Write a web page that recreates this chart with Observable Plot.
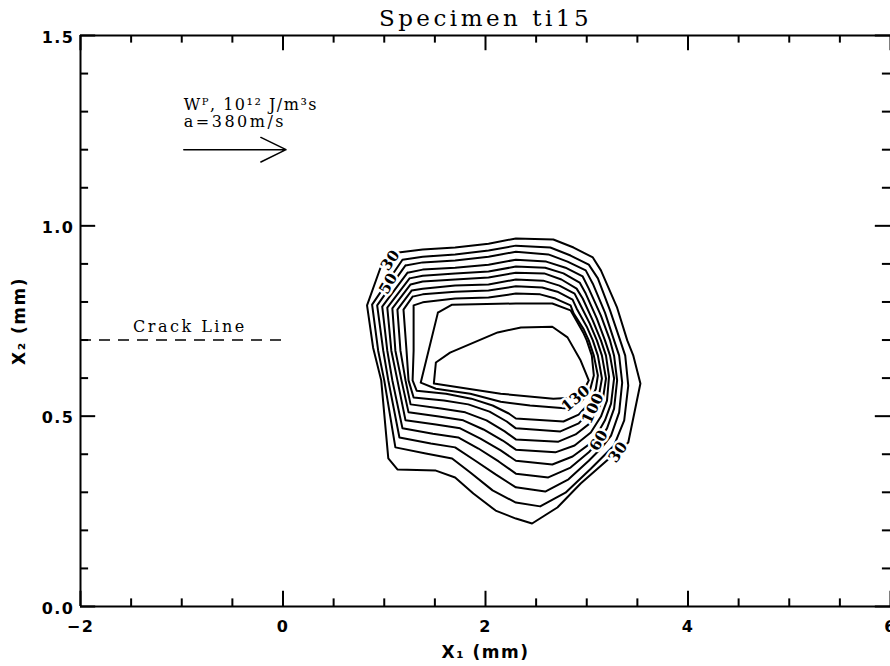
<!DOCTYPE html>
<html><head><meta charset="utf-8">
<script src="https://cdn.jsdelivr.net/npm/d3@7"></script>
<script src="https://cdn.jsdelivr.net/npm/@observablehq/plot@0.6"></script>
<style>body{margin:0;background:#fff}</style>
</head><body><div id="chart"></div>
<script>
const title = "Specimen ti15";
const xLabel = "X\u2081 (mm)";
const yLabel = "X\u2082 (mm)";
const xMajorTicks = [-2, 0, 2, 4, 6];
const xTickLabels = ["\u22122", "0", "2", "4", "6"];
const xMinorTicks = [-1.5, -1, -0.5, 0.5, 1, 1.5, 2.5, 3, 3.5, 4.5, 5, 5.5];
const yMajorTicks = [0, 0.5, 1.0, 1.5];
const yTickLabels = ["0.0", "0.5", "1.0", "1.5"];
const yMinorTicks = [0.1, 0.2, 0.3, 0.4, 0.6, 0.7, 0.8, 0.9, 1.1, 1.2, 1.3, 1.4];

// contour polylines, levels 30..130 (10^12 J/m^3 s), [x1, x2] in mm
const c30 = [[1.14,0.930],[1.38,0.938],[1.70,0.943],[2.03,0.953],[2.30,0.967],[2.67,0.964],[2.87,0.943],[3.06,0.917],[3.14,0.883],[3.30,0.785],[3.40,0.699],[3.46,0.659],[3.53,0.586],[3.41,0.431],[3.23,0.391],[2.94,0.323],[2.71,0.260],[2.46,0.218],[2.30,0.231],[2.10,0.252],[1.88,0.297],[1.70,0.339],[1.51,0.357],[1.13,0.360],[1.04,0.389],[0.97,0.594],[0.89,0.680],[0.83,0.791],[0.96,0.888],[1.04,0.914],[1.14,0.930]];
const c40 = [[1.18,0.911],[1.38,0.919],[1.70,0.925],[2.03,0.935],[2.30,0.948],[2.64,0.943],[2.84,0.922],[3.02,0.898],[3.11,0.862],[3.23,0.778],[3.33,0.699],[3.38,0.659],[3.41,0.580],[3.37,0.489],[3.27,0.423],[3.04,0.362],[2.79,0.299],[2.54,0.263],[2.30,0.273],[2.07,0.305],[1.85,0.352],[1.67,0.389],[1.41,0.402],[1.11,0.418],[1.00,0.594],[0.94,0.672],[0.88,0.793],[1.18,0.911]];
const c50 = [[1.21,0.896],[1.38,0.904],[1.70,0.909],[2.03,0.919],[2.30,0.932],[2.62,0.925],[2.81,0.906],[2.99,0.883],[3.06,0.848],[3.18,0.772],[3.27,0.699],[3.32,0.659],[3.35,0.588],[3.32,0.510],[3.24,0.449],[3.14,0.415],[3.02,0.383],[2.82,0.334],[2.59,0.302],[2.30,0.313],[2.10,0.347],[1.90,0.383],[1.70,0.418],[1.46,0.428],[1.15,0.444],[1.04,0.594],[0.99,0.672],[0.93,0.791],[1.21,0.896]];
const c60 = [[1.23,0.877],[1.38,0.885],[1.70,0.890],[2.03,0.898],[2.30,0.911],[2.60,0.906],[2.79,0.890],[2.96,0.867],[3.02,0.835],[3.14,0.764],[3.23,0.699],[3.27,0.659],[3.30,0.594],[3.27,0.520],[3.20,0.468],[3.12,0.436],[3.02,0.405],[2.84,0.365],[2.62,0.339],[2.30,0.349],[2.13,0.381],[1.93,0.415],[1.73,0.444],[1.48,0.454],[1.18,0.468],[1.08,0.594],[1.03,0.672],[0.98,0.788],[1.23,0.877]];
const c70 = [[1.25,0.862],[1.38,0.869],[1.70,0.875],[2.03,0.880],[2.30,0.893],[2.59,0.890],[2.77,0.875],[2.93,0.851],[2.99,0.822],[3.10,0.756],[3.18,0.699],[3.23,0.659],[3.27,0.599],[3.24,0.533],[3.18,0.489],[3.06,0.433],[2.86,0.394],[2.66,0.373],[2.30,0.383],[2.15,0.410],[1.95,0.441],[1.75,0.468],[1.51,0.478],[1.21,0.489],[1.13,0.594],[1.07,0.672],[1.03,0.785],[1.25,0.862]];
const c80 = [[1.26,0.846],[1.38,0.854],[1.70,0.859],[2.03,0.864],[2.30,0.877],[2.58,0.875],[2.75,0.859],[2.90,0.835],[2.96,0.809],[3.06,0.751],[3.14,0.699],[3.19,0.659],[3.22,0.604],[3.20,0.541],[3.14,0.499],[3.04,0.457],[2.88,0.423],[2.69,0.405],[2.30,0.412],[2.17,0.436],[1.98,0.465],[1.78,0.489],[1.54,0.499],[1.24,0.510],[1.17,0.594],[1.11,0.672],[1.08,0.783],[1.26,0.846]];
const c90 = [[1.27,0.830],[1.38,0.835],[1.70,0.843],[2.03,0.846],[2.30,0.859],[2.57,0.856],[2.73,0.843],[2.88,0.822],[2.93,0.796],[3.03,0.743],[3.10,0.699],[3.15,0.659],[3.19,0.599],[3.16,0.546],[3.10,0.510],[3.04,0.483],[2.89,0.452],[2.72,0.433],[2.30,0.439],[2.19,0.460],[2.01,0.489],[1.80,0.510],[1.56,0.520],[1.26,0.531],[1.21,0.594],[1.16,0.672],[1.13,0.780],[1.27,0.830]];
const c100 = [[1.28,0.814],[1.38,0.820],[1.70,0.827],[2.03,0.830],[2.30,0.841],[2.56,0.838],[2.71,0.827],[2.86,0.806],[2.90,0.783],[3.00,0.735],[3.06,0.699],[3.11,0.659],[3.15,0.599],[3.12,0.554],[3.06,0.520],[2.92,0.481],[2.74,0.460],[2.30,0.468],[2.21,0.486],[2.04,0.512],[1.83,0.531],[1.59,0.541],[1.29,0.549],[1.24,0.594],[1.22,0.672],[1.19,0.780],[1.28,0.814]];
const c110 = [[1.29,0.791],[1.38,0.799],[1.70,0.809],[2.03,0.812],[2.30,0.822],[2.54,0.820],[2.69,0.809],[2.84,0.791],[2.87,0.770],[2.97,0.728],[3.02,0.699],[3.07,0.659],[3.11,0.607],[3.09,0.572],[3.03,0.536],[2.92,0.504],[2.77,0.486],[2.30,0.494],[2.23,0.507],[2.07,0.528],[1.86,0.546],[1.61,0.559],[1.32,0.567],[1.28,0.594],[1.29,0.672],[1.29,0.791]];
const c120 = [[1.53,0.772],[1.67,0.793],[2.30,0.796],[2.66,0.796],[2.84,0.778],[2.97,0.717],[3.00,0.699],[3.05,0.659],[3.07,0.607],[3.03,0.567],[2.94,0.536],[2.81,0.520],[2.44,0.528],[2.15,0.538],[1.85,0.559],[1.51,0.572],[1.36,0.588],[1.53,0.772]];
const c130 = [[1.51,0.641],[1.65,0.667],[2.12,0.720],[2.35,0.733],[2.66,0.735],[2.81,0.707],[2.94,0.646],[3.02,0.594],[2.99,0.578],[2.89,0.549],[2.67,0.546],[2.15,0.559],[1.49,0.586],[1.51,0.641]];
const levels = [30, 40, 50, 60, 70, 80, 90, 100, 110, 120, 130];
const rings = [c30, c40, c50, c60, c70, c80, c90, c100, c110, c120, c130];

const labelText = ["30", "50", "130", "100", "60", "30"];
const labelX = [1.06, 1.04, 2.89, 3.06, 3.12, 3.31];
const labelY = [0.909, 0.848, 0.546, 0.520, 0.436, 0.405];
const labelAngle = [-55, -60, -40, -65, -60, -55];

const crackX = [-2, 0.02];
const crackY = 0.70;
const arrowX = [-0.98, 0.03];
const arrowY = 1.2;
const noteLines = ["W\u1D3E, 10\u00B9\u00B2 J/m\u00B3s", "a=380m/s"];
const noteX = -0.98;
const noteY = [1.318, 1.272];
const crackText = "Crack Line";
const crackTextPos = [-0.92, 0.735];

const lineRows = rings.flatMap((pts, k) => pts.map(([x, y]) => ({lev: levels[k], x, y})));
const labelRows = labelText.map((t, i) => ({t, x: labelX[i], y: labelY[i], a: labelAngle[i]}));
const numFont = "DejaVu Sans";
const serif = "DejaVu Serif";

const chart = Plot.plot({
  width: 890, height: 666,
  marginLeft: 80, marginRight: 0, marginTop: 35, marginBottom: 60,
  x: {domain: [-2, 6], axis: null},
  y: {domain: [0, 1.5], axis: null},
  marks: [
    Plot.ruleY([0, 1.5], {x1: -2, x2: 6, stroke: "black", strokeWidth: 2}),
    Plot.ruleX([-2], {y1: 0, y2: 1.5, stroke: "black", strokeWidth: 2}),
    Plot.ruleX(xMajorTicks, {x: d => d, y1: 0, y2: 0.04, strokeWidth: 2}),
    Plot.ruleX(xMinorTicks, {x: d => d, y1: 0, y2: 0.02, strokeWidth: 2}),
    Plot.ruleX(xMajorTicks, {x: d => d, y1: 1.5, y2: 1.46, strokeWidth: 2}),
    Plot.ruleX(xMinorTicks, {x: d => d, y1: 1.5, y2: 1.48, strokeWidth: 2}),
    Plot.ruleY(yMajorTicks, {y: d => d, x1: -2, x2: -1.85, strokeWidth: 2}),
    Plot.ruleY(yMinorTicks, {y: d => d, x1: -2, x2: -1.92, strokeWidth: 2}),
    Plot.ruleY(yMajorTicks, {y: d => d, x1: 6, x2: 5.85, strokeWidth: 2}),
    Plot.ruleY(yMinorTicks, {y: d => d, x1: 6, x2: 5.92, strokeWidth: 2}),
    Plot.text(xMajorTicks, {x: d => d, y: 0, text: (d, i) => xTickLabels[i], dy: 20, fontSize: 16, fontWeight: "bold", fontFamily: numFont, fill: "black"}),
    Plot.text(yMajorTicks, {x: -2, y: d => d, text: (d, i) => yTickLabels[i], dx: -6, dy: 2, textAnchor: "end", fontSize: 16, fontWeight: "bold", fontFamily: numFont, fill: "black"}),
    Plot.text([title], {frameAnchor: "top", textAnchor: "middle", lineAnchor: "middle", dy: -17, text: d => d, fontSize: 23, fontFamily: serif, fill: "black"}),
    Plot.text([xLabel], {frameAnchor: "bottom", textAnchor: "middle", lineAnchor: "middle", dy: 46, text: d => d, fontSize: 17, fontWeight: "bold", fontFamily: numFont, fill: "black"}),
    Plot.text([yLabel], {frameAnchor: "left", textAnchor: "middle", lineAnchor: "middle", dx: -61, rotate: -90, text: d => d, fontSize: 17, fontWeight: "bold", fontFamily: numFont, fill: "black"}),
    Plot.line(lineRows, {x: "x", y: "y", z: "lev", stroke: "black", strokeWidth: 2}),
    Plot.text(labelRows, {x: "x", y: "y", text: "t", rotate: "a", fontSize: 15, fontFamily: serif, fontWeight: "bold", fill: "black", stroke: "white", strokeWidth: 5}),
    Plot.ruleY([crackY], {x1: crackX[0], x2: crackX[1], stroke: "black", strokeWidth: 1.5, strokeDasharray: "11,8"}),
    Plot.text([crackText], {x: crackTextPos[0], y: crackTextPos[1], text: d => d, fontSize: 16, fontFamily: serif, fill: "black"}),
    Plot.text(noteLines, {x: noteX, y: (d, i) => noteY[i], text: d => d, textAnchor: "start", fontSize: 16, fontFamily: serif, fill: "black"}),
    Plot.arrow([0], {x1: arrowX[0], x2: arrowX[1], y1: arrowY, y2: arrowY, stroke: "black", strokeWidth: 1.5, headLength: 28, headAngle: 52})
  ]
});
// letter spacing to mimic the wide plotter font
const spacing = new Map([[title, "3.5px"], [crackText, "2.5px"], [noteLines[0], "1.5px"], [noteLines[1], "2.5px"], [xLabel, "1.5px"], [yLabel, "1.5px"]]);
xTickLabels.concat(yTickLabels).forEach(t => spacing.set(t, "1.5px"));
chart.querySelectorAll("text").forEach(el => {
  const s = spacing.get(el.textContent);
  if (s) el.style.letterSpacing = s;
});
document.getElementById("chart").appendChild(chart);
</script>
</body></html>
